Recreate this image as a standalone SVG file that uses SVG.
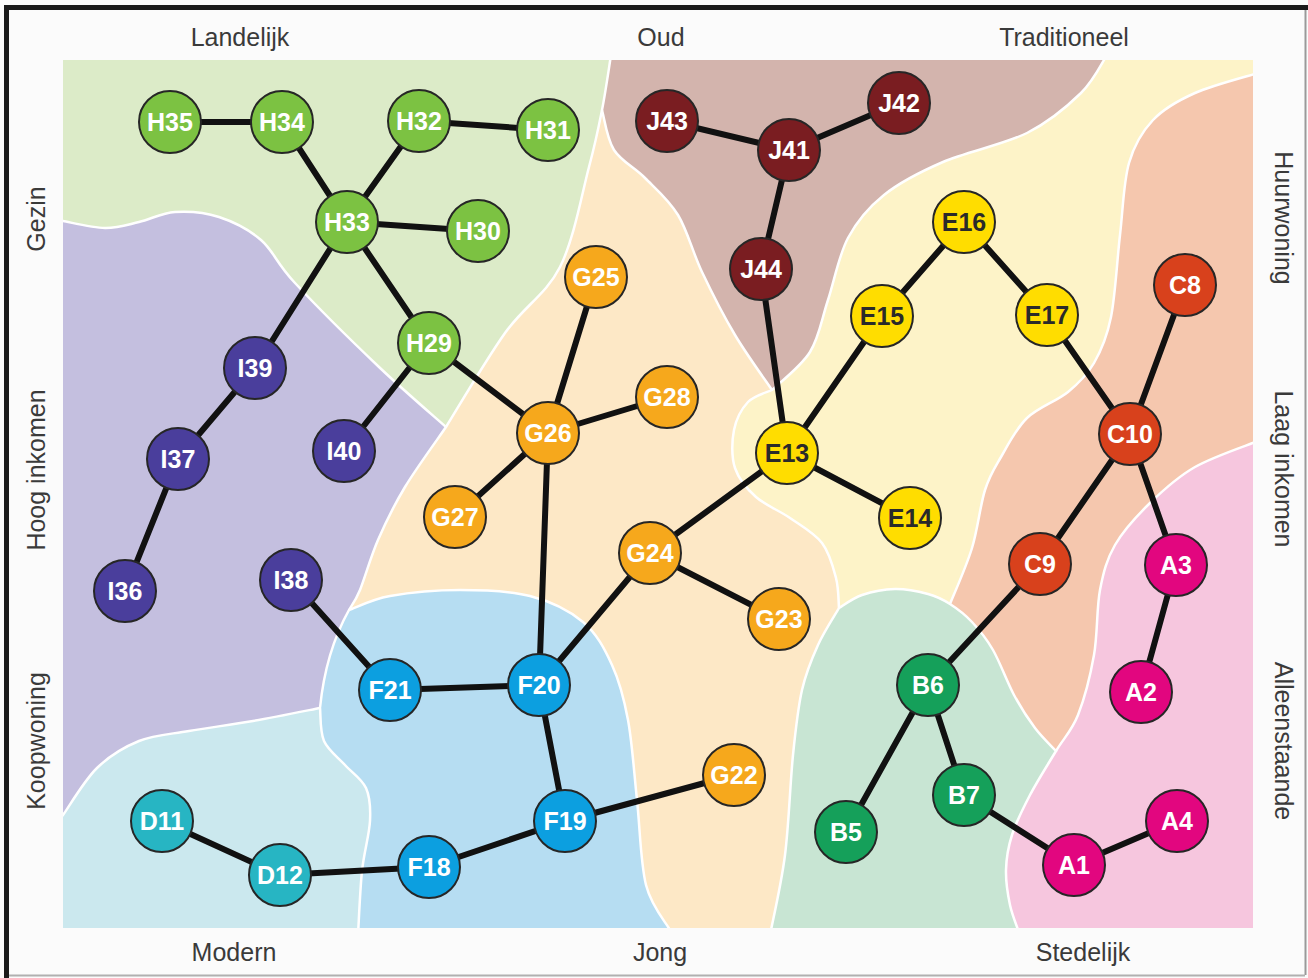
<svg xmlns="http://www.w3.org/2000/svg" width="1308" height="978" viewBox="0 0 1308 978">
<defs>
<style>
.bnd{fill:none;stroke:#ffffff;stroke-width:2.5;}
.edge{stroke:#111111;stroke-width:6;stroke-linecap:round;}
.node circle{stroke:#262626;stroke-width:2;}
.node text{font-family:"Liberation Sans",Arial,sans-serif;font-size:25px;font-weight:bold;fill:#ffffff;text-anchor:middle;}
.node.E text{fill:#2a2a2a;}
.H circle{fill:#7cc242;}
.I circle{fill:#4a3e9c;}
.G circle{fill:#f6a81c;}
.J circle{fill:#7a1d21;}
.E circle{fill:#ffdd00;}
.C circle{fill:#d8411c;}
.A circle{fill:#e2067f;}
.B circle{fill:#15a05a;}
.F circle{fill:#0c9fe0;}
.D circle{fill:#27b5c3;}
.axis{font-family:"Liberation Sans",Arial,sans-serif;font-size:25px;fill:#3a3a3a;text-anchor:middle;}
</style>
<clipPath id="plot"><rect x="63" y="60" width="1190" height="868"/></clipPath>
</defs>
<rect x="0" y="0" width="1308" height="978" fill="#fbfbfb"/>
<rect x="4" y="5" width="1304" height="5" fill="#1a1a1a"/>
<rect x="4" y="5" width="5" height="973" fill="#1a1a1a"/>
<line x1="1305.5" y1="10" x2="1305.5" y2="975" stroke="#9a9a9a" stroke-width="2"/>
<line x1="9" y1="975.5" x2="1305" y2="975.5" stroke="#b0b0b0" stroke-width="2"/>

<g id="regions" clip-path="url(#plot)">
<rect id="region-G" x="63" y="60" width="1190" height="868" fill="#fde8c6"/>
<path id="region-H" fill="#dcebc8" d="M55,55 L611,55 C609.5,64.2 605.7,91.3 602,110 C598.3,128.7 596,140.8 589,167 C582,193.2 574,239.3 560,267 C546,294.7 524,306.3 505,333 C486,359.7 455.8,411.3 446,427 C434.8,417 404.2,391 379,367 C353.8,343 314.7,304.2 295,283 C275.3,261.8 273.7,251 261,240 C248.3,229 233.3,221.7 219,217 C204.7,212.3 188.3,211.2 175,212 C161.7,212.8 150.7,219.3 139,222 C127.3,224.7 117.7,228.2 105,228 C92.3,227.8 70,222.2 63,221 L55,221 Z"/>
<path id="region-I" fill="#c4bfdf" d="M55,221 L63,221 C70,222.2 92.3,227.8 105,228 C117.7,228.2 127.3,224.7 139,222 C150.7,219.3 161.7,212.8 175,212 C188.3,211.2 204.7,212.3 219,217 C233.3,221.7 248.3,229 261,240 C273.7,251 275.3,261.8 295,283 C314.7,304.2 353.8,343 379,367 C404.2,391 434.8,417 446,427 C439.2,437 416.3,468.2 405,487 C393.7,505.8 385.5,522.8 378,540 C370.5,557.2 364.8,578.3 360,590 C355.2,601.7 350.8,606.7 349,610 C335,635 324,668 320,708 C308.8,710.2 274.8,717.2 253,721 C231.2,724.8 208,727.7 189,731 C170,734.3 154.3,734.8 139,741 C123.7,747.2 109.7,755.7 97,768 C84.3,780.3 68.7,807.2 63,815 L55,815 Z"/>
<path id="region-D" fill="#cbe8ee" d="M55,815 L63,815 C68.7,807.2 84.3,780.3 97,768 C109.7,755.7 123.7,747.2 139,741 C154.3,734.8 170,734.3 189,731 C208,727.7 231.2,724.8 253,721 C274.8,717.2 308.8,710.2 320,708 C320.7,713.5 319.8,731.5 324,741 C328.2,750.5 338,757.2 345,765 C352,772.8 361.8,778.7 366,788 C370.2,797.3 370.7,807.2 370,821 C369.3,834.8 364,852 362,871 C360,890 358.7,924.3 358,935 L358,940 L55,940 Z"/>
<path id="region-F" fill="#b6ddf2" d="M349,610 C355.8,607.7 371.5,599.3 390,596 C408.5,592.7 436.7,590 460,590 C483.3,590 509.5,590.7 530,596 C550.5,601.3 569.3,610.5 583,622 C596.7,633.5 604.5,648.7 612,665 C619.5,681.3 623.8,697.5 628,720 C632.2,742.5 634,772.5 637,800 C640,827.5 640.5,863.3 646,885 C651.5,906.7 666,922.5 670,930 L674,940 L358,940 L358,935 C358.7,924.3 360,890 362,871 C364,852 369.3,834.8 370,821 C370.7,807.2 370.2,797.3 366,788 C361.8,778.7 352,772.8 345,765 C338,757.2 328.2,750.5 324,741 C319.8,731.5 320.7,713.5 320,708 C324,668 335,635 349,610 Z"/>
<path id="region-J" fill="#d3b4ad" d="M611,55 L1107,55 C1102.7,61.3 1094.3,80 1081,93 C1067.7,106 1050,121.5 1027,133 C1004,144.5 966.8,151.7 943,162 C919.2,172.3 899.8,182.3 884,195 C868.2,207.7 857.3,220.5 848,238 C838.7,255.5 834.3,281 828,300 C821.7,319 819.3,337 810,352 C800.7,367 778.3,383.7 772,390 C765.8,380.8 746.7,354.7 735,335 C723.3,315.3 711.5,292 702,272 C692.5,252 687.5,230.7 678,215 C668.5,199.3 655.7,188.8 645,178 C634.3,167.2 621.2,161.3 614,150 C606.8,138.7 604,116.7 602,110 C605.7,91.3 609.5,64.2 611,55 Z"/>
<path id="region-E" fill="#fdf3c8" d="M1107,55 L1258,55 L1258,73 C1247.5,76.3 1212.5,85.2 1195,93 C1177.5,100.8 1164,108.3 1153,120 C1142,131.7 1134.5,143.8 1129,163 C1123.5,182.2 1123,209.3 1120,235 C1117,260.7 1115.3,295.7 1111,317 C1106.7,338.3 1101.2,350.5 1094,363 C1086.8,375.5 1079.2,382.8 1068,392 C1056.8,401.2 1038.2,407.2 1027,418 C1015.8,428.8 1008,445 1001,457 C994,469 989.8,474.8 985,490 C980.2,505.2 977.8,529 972,548 C966.2,567 953.7,594.7 950,604 C942.7,599.3 937.2,596.5 928,594 C918.8,591.5 906,588.8 895,589 C884,589.2 871.3,591.8 862,595 C852.7,598.2 842.8,605.8 839,608 C838.5,603 838.8,588.8 836,578 C833.2,567.2 829.7,553 822,543 C814.3,533 801,525.7 790,518 C779,510.3 765.2,505.3 756,497 C746.8,488.7 738.7,479.2 735,468 C731.3,456.8 731.8,441 734,430 C736.2,419 741.7,408.7 748,402 C754.3,395.3 768,392 772,390 C778.3,383.7 800.7,367 810,352 C819.3,337 821.7,319 828,300 C834.3,281 838.7,255.5 848,238 C857.3,220.5 868.2,207.7 884,195 C899.8,182.3 919.2,172.3 943,162 C966.8,151.7 1004,144.5 1027,133 C1050,121.5 1067.7,106 1081,93 C1094.3,80 1102.7,61.3 1107,55 Z"/>
<path id="region-C" fill="#f5c7ae" d="M1258,73 L1258,441 C1247.5,445.3 1213,456.7 1195,467 C1177,477.3 1163.3,490 1150,503 C1136.7,516 1123.3,530.5 1115,545 C1106.7,559.5 1103.5,571.7 1100,590 C1096.5,608.3 1097.7,634.2 1094,655 C1090.3,675.8 1084.3,699 1078,715 C1071.7,731 1064,737.7 1056,751 C1052.5,747.2 1042,737.3 1035,728 C1028,718.7 1021,708 1014,695 C1007,682 1000,662.2 993,650 C986,637.8 979.2,629.7 972,622 C964.8,614.3 957.3,608.7 950,604 C953.7,594.7 966.2,567 972,548 C977.8,529 980.2,505.2 985,490 C989.8,474.8 994,469 1001,457 C1008,445 1015.8,428.8 1027,418 C1038.2,407.2 1056.8,401.2 1068,392 C1079.2,382.8 1086.8,375.5 1094,363 C1101.2,350.5 1106.7,338.3 1111,317 C1115.3,295.7 1117,260.7 1120,235 C1123,209.3 1123.5,182.2 1129,163 C1134.5,143.8 1142,131.7 1153,120 C1164,108.3 1177.5,100.8 1195,93 C1212.5,85.2 1247.5,76.3 1258,73 Z"/>
<path id="region-A" fill="#f6c6de" d="M1258,441 L1258,940 L1020,940 L1020,935 C1018.3,930 1012.3,915.8 1010,905 C1007.7,894.2 1005.7,881.7 1006,870 C1006.3,858.3 1008,847.5 1012,835 C1016,822.5 1022.7,809 1030,795 C1037.3,781 1048,764.3 1056,751 C1064,737.7 1071.7,731 1078,715 C1084.3,699 1090.3,675.8 1094,655 C1097.7,634.2 1096.5,608.3 1100,590 C1103.5,571.7 1106.7,559.5 1115,545 C1123.3,530.5 1136.7,516 1150,503 C1163.3,490 1177,477.3 1195,467 C1213,456.7 1247.5,445.3 1258,441 Z"/>
<path id="region-B" fill="#c8e5d3" d="M839,608 C842.8,605.8 852.7,598.2 862,595 C871.3,591.8 884,589.2 895,589 C906,588.8 918.8,591.5 928,594 C937.2,596.5 942.7,599.3 950,604 C957.3,608.7 964.8,614.3 972,622 C979.2,629.7 986,637.8 993,650 C1000,662.2 1007,682 1014,695 C1021,708 1028,718.7 1035,728 C1042,737.3 1052.5,747.2 1056,751 C1048,764.3 1037.3,781 1030,795 C1022.7,809 1016,822.5 1012,835 C1008,847.5 1006.3,858.3 1006,870 C1005.7,881.7 1007.7,894.2 1010,905 C1012.3,915.8 1018.3,930 1020,935 L1020,940 L770,940 L770,935 C772.5,921.7 781.2,885 785,855 C788.8,825 790.2,782.5 793,755 C795.8,727.5 797.8,708.3 802,690 C806.2,671.7 811.8,658.7 818,645 C824.2,631.3 835.5,614.2 839,608 Z"/>
<g id="boundaries">
<path class="bnd" d="M611,55 C609.5,64.2 605.7,91.3 602,110 C598.3,128.7 596,140.8 589,167 C582,193.2 574,239.3 560,267 C546,294.7 524,306.3 505,333 C486,359.7 455.8,411.3 446,427 C439.2,437 416.3,468.2 405,487 C393.7,505.8 385.5,522.8 378,540 C370.5,557.2 364.8,578.3 360,590 C355.2,601.7 350.8,606.7 349,610 C335,635 324,668 320,708 C320.7,713.5 319.8,731.5 324,741 C328.2,750.5 338,757.2 345,765 C352,772.8 361.8,778.7 366,788 C370.2,797.3 370.7,807.2 370,821 C369.3,834.8 364,852 362,871 C360,890 358.7,924.3 358,935"/>
<path class="bnd" d="M446,427 C434.8,417 404.2,391 379,367 C353.8,343 314.7,304.2 295,283 C275.3,261.8 273.7,251 261,240 C248.3,229 233.3,221.7 219,217 C204.7,212.3 188.3,211.2 175,212 C161.7,212.8 150.7,219.3 139,222 C127.3,224.7 117.7,228.2 105,228 C92.3,227.8 70,222.2 63,221 L55,221"/>
<path class="bnd" d="M320,708 C308.8,710.2 274.8,717.2 253,721 C231.2,724.8 208,727.7 189,731 C170,734.3 154.3,734.8 139,741 C123.7,747.2 109.7,755.7 97,768 C84.3,780.3 68.7,807.2 63,815 L55,825"/>
<path class="bnd" d="M349,610 C355.8,607.7 371.5,599.3 390,596 C408.5,592.7 436.7,590 460,590 C483.3,590 509.5,590.7 530,596 C550.5,601.3 569.3,610.5 583,622 C596.7,633.5 604.5,648.7 612,665 C619.5,681.3 623.8,697.5 628,720 C632.2,742.5 634,772.5 637,800 C640,827.5 640.5,863.3 646,885 C651.5,906.7 666,922.5 670,930 L674,940"/>
<path class="bnd" d="M602,110 C604,116.7 606.8,138.7 614,150 C621.2,161.3 634.3,167.2 645,178 C655.7,188.8 668.5,199.3 678,215 C687.5,230.7 692.5,252 702,272 C711.5,292 723.3,315.3 735,335 C746.7,354.7 765.8,380.8 772,390"/>
<path class="bnd" d="M1107,55 C1102.7,61.3 1094.3,80 1081,93 C1067.7,106 1050,121.5 1027,133 C1004,144.5 966.8,151.7 943,162 C919.2,172.3 899.8,182.3 884,195 C868.2,207.7 857.3,220.5 848,238 C838.7,255.5 834.3,281 828,300 C821.7,319 819.3,337 810,352 C800.7,367 778.3,383.7 772,390 C768,392 754.3,395.3 748,402 C741.7,408.7 736.2,419 734,430 C731.8,441 731.3,456.8 735,468 C738.7,479.2 746.8,488.7 756,497 C765.2,505.3 779,510.3 790,518 C801,525.7 814.3,533 822,543 C829.7,553 833.2,567.2 836,578 C838.8,588.8 838.5,603 839,608"/>
<path class="bnd" d="M770,940 L770,935 C772.5,921.7 781.2,885 785,855 C788.8,825 790.2,782.5 793,755 C795.8,727.5 797.8,708.3 802,690 C806.2,671.7 811.8,658.7 818,645 C824.2,631.3 835.5,614.2 839,608 C842.8,605.8 852.7,598.2 862,595 C871.3,591.8 884,589.2 895,589 C906,588.8 918.8,591.5 928,594 C937.2,596.5 942.7,599.3 950,604 C957.3,608.7 964.8,614.3 972,622 C979.2,629.7 986,637.8 993,650 C1000,662.2 1007,682 1014,695 C1021,708 1028,718.7 1035,728 C1042,737.3 1052.5,747.2 1056,751 C1048,764.3 1037.3,781 1030,795 C1022.7,809 1016,822.5 1012,835 C1008,847.5 1006.3,858.3 1006,870 C1005.7,881.7 1007.7,894.2 1010,905 C1012.3,915.8 1018.3,930 1020,935 L1020,940"/>
<path class="bnd" d="M1258,73 C1247.5,76.3 1212.5,85.2 1195,93 C1177.5,100.8 1164,108.3 1153,120 C1142,131.7 1134.5,143.8 1129,163 C1123.5,182.2 1123,209.3 1120,235 C1117,260.7 1115.3,295.7 1111,317 C1106.7,338.3 1101.2,350.5 1094,363 C1086.8,375.5 1079.2,382.8 1068,392 C1056.8,401.2 1038.2,407.2 1027,418 C1015.8,428.8 1008,445 1001,457 C994,469 989.8,474.8 985,490 C980.2,505.2 977.8,529 972,548 C966.2,567 953.7,594.7 950,604"/>
<path class="bnd" d="M1258,441 C1247.5,445.3 1213,456.7 1195,467 C1177,477.3 1163.3,490 1150,503 C1136.7,516 1123.3,530.5 1115,545 C1106.7,559.5 1103.5,571.7 1100,590 C1096.5,608.3 1097.7,634.2 1094,655 C1090.3,675.8 1084.3,699 1078,715 C1071.7,731 1064,737.7 1056,751"/>
</g>
</g>

<g id="axis-labels">
<text class="axis" x="240" y="46">Landelijk</text>
<text class="axis" x="661" y="46">Oud</text>
<text class="axis" x="1064" y="46">Traditioneel</text>
<text class="axis" x="234" y="961">Modern</text>
<text class="axis" x="660" y="961">Jong</text>
<text class="axis" x="1083" y="961">Stedelijk</text>
<text class="axis" transform="translate(45,219) rotate(-90)">Gezin</text>
<text class="axis" transform="translate(45,470) rotate(-90)">Hoog inkomen</text>
<text class="axis" transform="translate(45,741) rotate(-90)">Koopwoning</text>
<text class="axis" transform="translate(1275,218) rotate(90)">Huurwoning</text>
<text class="axis" transform="translate(1275,469) rotate(90)">Laag inkomen</text>
<text class="axis" transform="translate(1275,741) rotate(90)">Alleenstaande</text>
</g>

<g id="connectors">
<line class="edge" x1="170" y1="122" x2="282" y2="122"/>
<line class="edge" x1="282" y1="122" x2="347" y2="222"/>
<line class="edge" x1="419" y1="121" x2="347" y2="222"/>
<line class="edge" x1="419" y1="121" x2="548" y2="130"/>
<line class="edge" x1="347" y1="222" x2="478" y2="231"/>
<line class="edge" x1="347" y1="222" x2="429" y2="343"/>
<line class="edge" x1="347" y1="222" x2="255" y2="368"/>
<line class="edge" x1="255" y1="368" x2="178" y2="459"/>
<line class="edge" x1="178" y1="459" x2="125" y2="591"/>
<line class="edge" x1="429" y1="343" x2="344" y2="451"/>
<line class="edge" x1="429" y1="343" x2="548" y2="433"/>
<line class="edge" x1="548" y1="433" x2="596" y2="277"/>
<line class="edge" x1="548" y1="433" x2="667" y2="397"/>
<line class="edge" x1="548" y1="433" x2="455" y2="517"/>
<line class="edge" x1="548" y1="433" x2="539" y2="685"/>
<line class="edge" x1="291" y1="580" x2="390" y2="690"/>
<line class="edge" x1="390" y1="690" x2="539" y2="685"/>
<line class="edge" x1="539" y1="685" x2="650" y2="553"/>
<line class="edge" x1="539" y1="685" x2="565" y2="821"/>
<line class="edge" x1="565" y1="821" x2="429" y2="867"/>
<line class="edge" x1="429" y1="867" x2="280" y2="875"/>
<line class="edge" x1="280" y1="875" x2="162" y2="821"/>
<line class="edge" x1="565" y1="821" x2="734" y2="775"/>
<line class="edge" x1="650" y1="553" x2="779" y2="619"/>
<line class="edge" x1="650" y1="553" x2="787" y2="453"/>
<line class="edge" x1="787" y1="453" x2="761" y2="269"/>
<line class="edge" x1="761" y1="269" x2="789" y2="150"/>
<line class="edge" x1="789" y1="150" x2="667" y2="121"/>
<line class="edge" x1="789" y1="150" x2="899" y2="103"/>
<line class="edge" x1="787" y1="453" x2="882" y2="316"/>
<line class="edge" x1="882" y1="316" x2="964" y2="222"/>
<line class="edge" x1="964" y1="222" x2="1047" y2="315"/>
<line class="edge" x1="1047" y1="315" x2="1130" y2="434"/>
<line class="edge" x1="787" y1="453" x2="910" y2="518"/>
<line class="edge" x1="1130" y1="434" x2="1185" y2="285"/>
<line class="edge" x1="1130" y1="434" x2="1040" y2="564"/>
<line class="edge" x1="1040" y1="564" x2="928" y2="685"/>
<line class="edge" x1="1130" y1="434" x2="1176" y2="565"/>
<line class="edge" x1="1176" y1="565" x2="1141" y2="692"/>
<line class="edge" x1="928" y1="685" x2="846" y2="832"/>
<line class="edge" x1="928" y1="685" x2="964" y2="795"/>
<line class="edge" x1="964" y1="795" x2="1074" y2="865"/>
<line class="edge" x1="1074" y1="865" x2="1177" y2="821"/>
</g>

<g id="H35" class="node H"><circle cx="170" cy="122" r="31"/><text x="170" y="131">H35</text></g>
<g id="H34" class="node H"><circle cx="282" cy="122" r="31"/><text x="282" y="131">H34</text></g>
<g id="H32" class="node H"><circle cx="419" cy="121" r="31"/><text x="419" y="130">H32</text></g>
<g id="H31" class="node H"><circle cx="548" cy="130" r="31"/><text x="548" y="139">H31</text></g>
<g id="H33" class="node H"><circle cx="347" cy="222" r="31"/><text x="347" y="231">H33</text></g>
<g id="H30" class="node H"><circle cx="478" cy="231" r="31"/><text x="478" y="240">H30</text></g>
<g id="H29" class="node H"><circle cx="429" cy="343" r="31"/><text x="429" y="352">H29</text></g>
<g id="I39" class="node I"><circle cx="255" cy="368" r="31"/><text x="255" y="377">I39</text></g>
<g id="I40" class="node I"><circle cx="344" cy="451" r="31"/><text x="344" y="460">I40</text></g>
<g id="I37" class="node I"><circle cx="178" cy="459" r="31"/><text x="178" y="468">I37</text></g>
<g id="I36" class="node I"><circle cx="125" cy="591" r="31"/><text x="125" y="600">I36</text></g>
<g id="I38" class="node I"><circle cx="291" cy="580" r="31"/><text x="291" y="589">I38</text></g>
<g id="G25" class="node G"><circle cx="596" cy="277" r="31"/><text x="596" y="286">G25</text></g>
<g id="G28" class="node G"><circle cx="667" cy="397" r="31"/><text x="667" y="406">G28</text></g>
<g id="G26" class="node G"><circle cx="548" cy="433" r="31"/><text x="548" y="442">G26</text></g>
<g id="G27" class="node G"><circle cx="455" cy="517" r="31"/><text x="455" y="526">G27</text></g>
<g id="G24" class="node G"><circle cx="650" cy="553" r="31"/><text x="650" y="562">G24</text></g>
<g id="G23" class="node G"><circle cx="779" cy="619" r="31"/><text x="779" y="628">G23</text></g>
<g id="G22" class="node G"><circle cx="734" cy="775" r="31"/><text x="734" y="784">G22</text></g>
<g id="F21" class="node F"><circle cx="390" cy="690" r="31"/><text x="390" y="699">F21</text></g>
<g id="F20" class="node F"><circle cx="539" cy="685" r="31"/><text x="539" y="694">F20</text></g>
<g id="F19" class="node F"><circle cx="565" cy="821" r="31"/><text x="565" y="830">F19</text></g>
<g id="F18" class="node F"><circle cx="429" cy="867" r="31"/><text x="429" y="876">F18</text></g>
<g id="D11" class="node D"><circle cx="162" cy="821" r="31"/><text x="162" y="830">D11</text></g>
<g id="D12" class="node D"><circle cx="280" cy="875" r="31"/><text x="280" y="884">D12</text></g>
<g id="J43" class="node J"><circle cx="667" cy="121" r="31"/><text x="667" y="130">J43</text></g>
<g id="J41" class="node J"><circle cx="789" cy="150" r="31"/><text x="789" y="159">J41</text></g>
<g id="J42" class="node J"><circle cx="899" cy="103" r="31"/><text x="899" y="112">J42</text></g>
<g id="J44" class="node J"><circle cx="761" cy="269" r="31"/><text x="761" y="278">J44</text></g>
<g id="E16" class="node E"><circle cx="964" cy="222" r="31"/><text x="964" y="231">E16</text></g>
<g id="E15" class="node E"><circle cx="882" cy="316" r="31"/><text x="882" y="325">E15</text></g>
<g id="E17" class="node E"><circle cx="1047" cy="315" r="31"/><text x="1047" y="324">E17</text></g>
<g id="E13" class="node E"><circle cx="787" cy="453" r="31"/><text x="787" y="462">E13</text></g>
<g id="E14" class="node E"><circle cx="910" cy="518" r="31"/><text x="910" y="527">E14</text></g>
<g id="C8" class="node C"><circle cx="1185" cy="285" r="31"/><text x="1185" y="294">C8</text></g>
<g id="C10" class="node C"><circle cx="1130" cy="434" r="31"/><text x="1130" y="443">C10</text></g>
<g id="C9" class="node C"><circle cx="1040" cy="564" r="31"/><text x="1040" y="573">C9</text></g>
<g id="A3" class="node A"><circle cx="1176" cy="565" r="31"/><text x="1176" y="574">A3</text></g>
<g id="A2" class="node A"><circle cx="1141" cy="692" r="31"/><text x="1141" y="701">A2</text></g>
<g id="A4" class="node A"><circle cx="1177" cy="821" r="31"/><text x="1177" y="830">A4</text></g>
<g id="A1" class="node A"><circle cx="1074" cy="865" r="31"/><text x="1074" y="874">A1</text></g>
<g id="B6" class="node B"><circle cx="928" cy="685" r="31"/><text x="928" y="694">B6</text></g>
<g id="B7" class="node B"><circle cx="964" cy="795" r="31"/><text x="964" y="804">B7</text></g>
<g id="B5" class="node B"><circle cx="846" cy="832" r="31"/><text x="846" y="841">B5</text></g>
</svg>
